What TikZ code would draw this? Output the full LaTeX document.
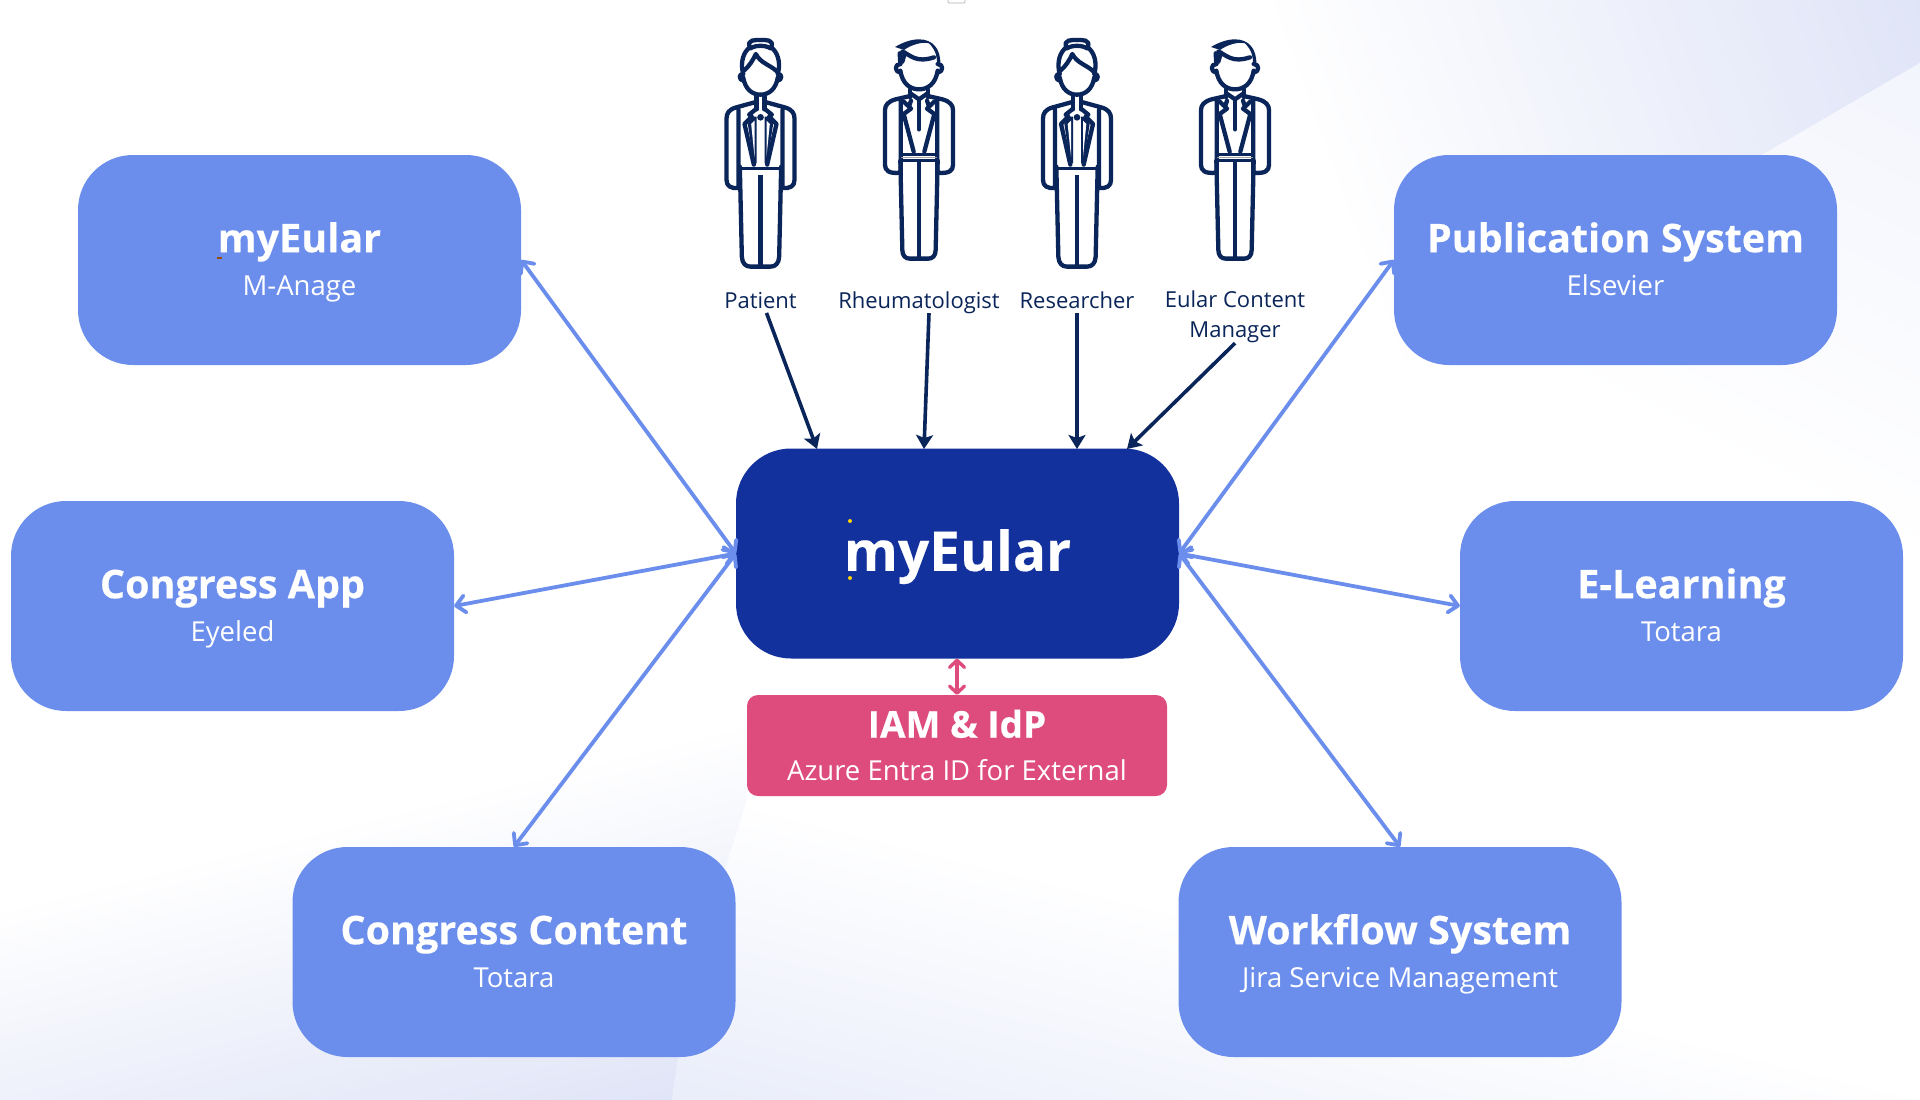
\documentclass[tikz,border=0pt]{standalone}
\usepackage{fontspec}
\setmainfont{Open Sans}[BoldFeatures={FakeBold=0.35}]
\usetikzlibrary{arrows.meta,calc}
\definecolor{boxblue}{HTML}{6B8EEC}
\definecolor{coreblue}{HTML}{12319C}
\definecolor{navy}{HTML}{0A2559}
\definecolor{pinkbox}{HTML}{DD4C7C}
\definecolor{bgdeep}{HTML}{DFE4F7}
\definecolor{bgmid}{HTML}{E9EDFA}
\definecolor{bgpale}{HTML}{F3F5FD}
\newcommand{\ttl}[1]{{\bfseries\rule{0pt}{34pt}#1}}
\newcommand{\sbt}[1]{{\fontsize{27.5}{43}\selectfont\vphantom{g}#1}}
\newcommand{\rl}[1]{\vphantom{Ag}#1}
\tikzset{
  x=1pt,y=-1pt,
  sysbox/.style={fill=boxblue,text=white,rounded corners=55pt,minimum width=443pt,minimum height=210pt,inner sep=0pt,align=center,font=\fontsize{39.5}{43}\selectfont},
  corebox/.style={fill=coreblue,text=white,rounded corners=55pt,minimum width=443pt,minimum height=210pt,inner sep=0pt,align=center},
  iambox/.style={fill=pinkbox,text=white,rounded corners=11pt,minimum width=420pt,minimum height=101pt,inner sep=0pt,align=center,font=\fontsize{37}{43}\selectfont},
  rolelabel/.style={text=navy,font=\fontsize{22}{30}\selectfont,align=center,inner sep=0pt},
  link/.style={boxblue,line width=3.8pt,{Straight Barb[length=9pt,width=17pt,round]}-{Straight Barb[length=9pt,width=17pt,round]}},
  actor/.style={navy,line width=3.6pt,-{Stealth[length=14pt,width=17pt,inset=3pt]}},
  idp/.style={pinkbox,line width=3.4pt,{Straight Barb[length=7pt,width=15pt,round]}-{Straight Barb[length=7pt,width=15pt,round]}},
  womanfig/.pic={
    \begin{scope}[x=.3333pt,y=-.3333pt,navy,line width=4.3pt,line cap=round,line join=round]
      % head and hair
      \draw (-52,232) .. controls (-46,268) and (-25,284) .. (0,284) .. controls (25,284) and (46,268) .. (52,232);
      \draw (-52,222) .. controls (-66,220) and (-66,242) .. (-50,242);
      \draw (52,222) .. controls (66,220) and (66,242) .. (50,242);
      \draw (-52,222) .. controls (-62,185) and (-50,155) .. (-32,142) .. controls (-42,118) and (-15,120) .. (0,120) .. controls (15,120) and (42,118) .. (32,142) .. controls (50,155) and (62,185) .. (52,222);
      \draw (-30,145) .. controls (-15,135) and (15,135) .. (30,145);
      \draw (-50,212) .. controls (-35,200) and (-22,180) .. (-14,162) .. controls (0,190) and (30,195) .. (50,215);
      % neck
      \draw (-12,284) -- (-12,328) (12,284) -- (12,328);
      % jacket and arms
      \draw (-14,306) -- (-72,322) .. controls (-95,328) and (-102,340) .. (-102,356) -- (-102,540) .. controls (-102,558) and (-90,566) .. (-66,564) -- (-66,330);
      \draw (14,306) -- (72,322) .. controls (95,328) and (102,340) .. (102,356) -- (102,540) .. controls (102,558) and (90,566) .. (66,564) -- (66,330);
      % lapels
      \draw (-12,326) -- (-34,344) -- (-26,350) -- (-48,372) -- (-20,494);
      \draw (12,326) -- (34,344) -- (26,350) -- (48,372) -- (20,494);
      \fill (-38,372) -- (-24,350) -- (-12,350) -- (-12,490) -- (-20,490) -- cycle;
      \fill (38,372) -- (24,350) -- (12,350) -- (12,490) -- (20,490) -- cycle;
      \fill[white] (-28,372) -- (-18,362) -- (-18,470) -- cycle;
      \fill[white] (28,372) -- (18,362) -- (18,470) -- cycle;
      \fill (0,352) circle (10);
      % trousers
      \draw[line width=2.4pt] (-58,505) -- (58,505);
      \draw (-62,500) -- (-56,770) .. controls (-55,790) and (-45,800) .. (-30,800) -- (30,800) .. controls (45,800) and (55,790) .. (56,770) -- (62,500);
      \draw[line width=4.8pt,line cap=butt] (0,525) -- (0,800);
    \end{scope}
  },
  manfig/.pic={
    \begin{scope}[x=.3333pt,y=-.3333pt,navy,line width=4.3pt,line cap=round,line join=round]
      % head and hair
      \draw (-56,212) .. controls (-50,250) and (-28,268) .. (0,268) .. controls (28,268) and (50,250) .. (56,212);
      \draw (-56,192) .. controls (-74,192) and (-74,216) .. (-56,218);
      \draw (56,192) .. controls (74,192) and (74,216) .. (56,218);
      \draw (-56,192) -- (-58,160) (-42,158) -- (-50,185);
      \fill (-72,141) .. controls (-50,128) and (-25,118) .. (0,118) .. controls (40,118) and (66,145) .. (64,195) -- (54,195) .. controls (55,170) and (50,150) .. (30,130) .. controls (10,124) and (-25,135) .. (-45,150) -- cycle;
      \draw (-50,155) .. controls (-25,165) and (-10,190) .. (45,172);
      % neck and collar
      \draw (-26,268) -- (-26,292) (26,268) -- (26,292);
      \draw (-26,280) -- (0,298) -- (26,280);
      % jacket and arms
      \draw (-26,288) -- (-70,298) .. controls (-92,304) and (-102,315) .. (-102,330) -- (-102,495) .. controls (-102,512) and (-90,522) .. (-55,518) -- (-55,302);
      \draw (26,288) -- (70,298) .. controls (92,304) and (102,315) .. (102,330) -- (102,495) .. controls (102,512) and (90,522) .. (55,518) -- (55,302);
      % lapels
      \draw (-24,302) -- (-30,320) -- (-24,326) -- (-46,342) -- (-16,455);
      \draw (24,302) -- (30,320) -- (24,326) -- (46,342) -- (16,455);
      \draw (-46,305) -- (-30,320) (46,305) -- (30,320);
      \draw[line width=4.4pt] (0,300) -- (0,388);
      % belt
      \draw[line width=2.8pt] (-54,463) -- (54,463) (-54,482) -- (54,482);
      \draw[gray!70,line width=1pt] (-52,472) -- (52,472);
      % trousers
      \draw (-56,482) -- (-50,750) .. controls (-50,768) and (-40,776) .. (-28,776) -- (28,776) .. controls (40,776) and (50,768) .. (50,750) -- (56,482);
      \draw[line width=4.2pt,line cap=butt] (0,482) -- (0,776);
    \end{scope}
  }
}
\begin{document}
\begin{tikzpicture}
\useasboundingbox (0,0) rectangle (1920,1100);
\fill[white] (0,0) rectangle (1920,1100);
% background washes
\begin{scope}
  \clip (0,600) -- (760,600) -- (747,800) -- (690,980) -- (672,1100) -- (0,1100) -- cycle;
  \begin{scope}[transform canvas={rotate around={14:(672pt,-1100pt)}}]
    \shade[top color=white,bottom color=bgdeep] (-1000,750) rectangle (1700,1110);
  \end{scope}
\end{scope}
\begin{scope}
  \clip (672,1100) -- (690,980) -- (747,800) -- (1920,800) -- (1920,1100) -- cycle;
  \begin{scope}[transform canvas={rotate around={-14:(672pt,-1100pt)}}]
    \shade[top color=white,bottom color=bgmid] (-400,790) rectangle (2400,1105);
  \end{scope}
\end{scope}
\begin{scope}
  \clip (1100,0) -- (1920,0) -- (1920,63) -- (1762,155) -- (1400,366) -- (1100,300) -- cycle;
  \begin{scope}[transform canvas={rotate around={20:(1920pt,0pt)}}]
    \shade[left color=white,right color=bgdeep] (1300,-500) rectangle (1925,600);
  \end{scope}
\end{scope}
\begin{scope}
  \clip (1920,63) -- (1762,155) -- (1400,366) -- (1400,600) -- (1920,600) -- cycle;
  \begin{scope}[transform canvas={rotate around={-26.6:(1920pt,-63pt)}}]
    \shade[top color=bgpale,bottom color=white] (900,63) rectangle (2400,508);
  \end{scope}
\end{scope}
% stray page artefact
\draw[gray!60,fill=white,rounded corners=1pt,line width=.7pt] (948,-4) rectangle (965,3);

% system boxes
\node[sysbox] (my) at (299.5,260) {\ttl{myEular}\\\sbt{M-Anage}};
\node[sysbox] (app) at (232.5,606) {\ttl{Congress App}\\\sbt{Eyeled}};
\node[sysbox] (content) at (514,952) {\ttl{Congress Content}\\\sbt{Totara}};
\node[sysbox] (pub) at (1615.5,260) {\ttl{Publication System}\\\sbt{Elsevier}};
\node[sysbox] (learn) at (1681.5,606) {\ttl{E-Learning}\\\sbt{Totara}};
\node[sysbox] (flow) at (1400,952) {\ttl{Workflow System}\\\sbt{Jira Service Management}};
\node[corebox,font=\fontsize{55}{60}\selectfont\bfseries] (core) at (957.5,553.5) {\rule{0pt}{48pt}myEular};
\node[iambox] (iam) at (957,745.5) {\ttl{IAM \& IdP}\\\sbt{Azure Entra ID for External}};
\fill[yellow!70!orange] (850,521) circle (2) (850,578) circle (2);
\fill[orange!60!black] (217,257) rectangle (222,259);

% people
\pic at (760.5,0) {womanfig};
\pic at (919,0) {manfig};
\pic at (1077,0) {womanfig};
\pic at (1235,0) {manfig};
\node[rolelabel] (lp) at (760.5,303) {\rl{Patient}};
\node[rolelabel] (lr) at (919,303) {\rl{Rheumatologist}};
\node[rolelabel] (ls) at (1077,303) {\rl{Researcher}};
\node[rolelabel] (lm) at (1235,317) {\rl{Eular Content}\\\rl{Manager}};

% actor arrows
\coordinate (tp) at (817,449);
\coordinate (tr) at (924,449);
\coordinate (ts) at (1077,449);
\coordinate (tm) at (1127,449);
\draw[actor] ([shift={(6,-1)}]lp.south) -- (tp);
\draw[actor] ([shift={(10,-1)}]lr.south) -- (tr);
\draw[actor] ([shift={(0,-1)}]ls.south) -- (ts);
\draw[actor] ([shift={(0,0)}]lm.south) -- (tm);

% system links
\draw[link] (my.east) -- (core.west);
\draw[link] (app.east) -- (core.west);
\draw[link] (content.north) -- (core.west);
\draw[link] (pub.west) -- (core.east);
\draw[link] (learn.west) -- (core.east);
\draw[link] (flow.north) -- (core.east);
\draw[idp] (core.south -| iam.north) -- (iam.north);
\end{tikzpicture}
\end{document}
